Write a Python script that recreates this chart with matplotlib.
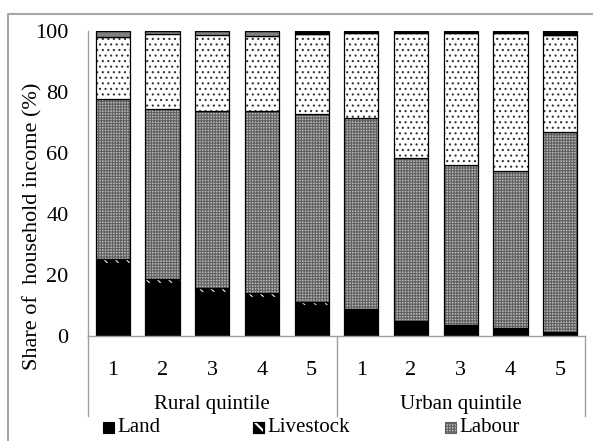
import numpy as np
import matplotlib.pyplot as plt
from matplotlib.patches import Rectangle, Polygon
from matplotlib.lines import Line2D

plt.rcParams['font.family'] = ['Liberation Serif', 'DejaVu Serif']
plt.rcParams['font.size'] = 15
plt.rcParams['hatch.linewidth'] = 0.8

quintiles = ['1', '2', '3', '4', '5', '1', '2', '3', '4', '5']
groups = ['Rural quintile', 'Urban quintile']

# shares of household income (%), rural 1-5 then urban 1-5
land       = np.array([23.9, 17.3, 14.4, 12.9, 10.2,  8.9,  5.0,  3.6,  2.7,  1.2])
livestock  = np.array([ 1.3,  1.3,  1.5,  1.3,  0.9,  0.0,  0.0,  0.0,  0.0,  0.0])
labour     = np.array([52.5, 55.7, 57.9, 59.6, 61.8, 62.7, 53.3, 52.5, 51.4, 65.6])
transfers  = np.array([20.2, 24.6, 25.0, 24.6, 26.2, 27.7, 41.0, 43.2, 45.2, 31.9])
other      = np.array([ 2.1,  1.1,  1.2,  1.6,  0.0,  0.0,  0.0,  0.0,  0.0,  0.0])
other_dark = np.array([ 0.0,  0.0,  0.0,  0.0,  0.9,  0.7,  0.7,  0.7,  0.7,  1.3])

W, H = 593, 441
fig = plt.figure(figsize=(W / 100, H / 100), dpi=100)
ax = fig.add_axes([88 / W, 105 / H, 497 / W, 305 / H])

x = np.arange(len(quintiles))
bw = 0.69

# (values, face, hatch, hatch colour)
styles = [
    (land, 'black', None, 'black'),
    (livestock, 'black', '\\\\\\', 'white'),
    (labour, '#b8b8b8', '++++++', '#606060'),
    (transfers, 'white', '...', '#333333'),
    (other, '#808080', None, '#808080'),
    (other_dark, 'black', None, 'black'),
]

bottom = np.zeros(len(x))
for vals, face, hatch, hc in styles:
    ax.bar(x, vals, bw, bottom=bottom, color=face, hatch=hatch,
           edgecolor=hc, linewidth=0)
    ax.bar(x, vals, bw, bottom=bottom, fill=False, edgecolor='black',
           linewidth=0.9)
    bottom += vals

ax.set_xlim(-0.5, 9.5)
ax.set_ylim(0, 100)
ax.set_yticks(range(0, 101, 20))
ax.tick_params(axis='y', length=0, pad=14, labelsize=16)
ax.set_xticks(x)
ax.set_xticklabels(quintiles)
ax.tick_params(axis='x', length=0, pad=18, labelsize=16)
for s in ['top', 'right']:
    ax.spines[s].set_visible(False)
for s in ['left', 'bottom']:
    ax.spines[s].set_color('#a0a0a0')
    ax.spines[s].set_linewidth(1.0)

# group separators below the axis
for px in [88, 337, 585]:
    fig.add_artist(Line2D([px / W, px / W], [1 - 336 / H, 1 - 416 / H],
                          color='#a0a0a0', lw=1.0))
fig.text(212 / W, 1 - 405 / H, groups[0], ha='center', va='center')
fig.text(461 / W, 1 - 405 / H, groups[1], ha='center', va='center')

fig.text(33 / W, 1 - 226 / H, 'Share of  household income (%)',
         rotation=90, ha='center', va='center', fontsize=16)

# legend (cut at the bottom in the original)
leg = [(103, 'Land', 'black', None),
       (253, 'Livestock', 'black', None),
       (445, 'Labour', '#b8b8b8', '++++++')]
for px, lab, face, hatch in leg:
    fig.add_artist(Rectangle((px / W, 1 - 433 / H), 11 / W, 11 / H,
                             facecolor=face, hatch=hatch, edgecolor='#606060' if hatch else 'black',
                             linewidth=0.8, transform=fig.transFigure))
    fig.text((px + 14) / W, 1 - 428 / H, lab, ha='left', va='center')
# white diagonal band of the livestock key
x0, y0 = 253, 433
band = [(x0 + 2, y0 - 11), (x0 + 5, y0 - 11), (x0 + 11, y0 - 5), (x0 + 11, y0 - 2)]
fig.add_artist(Polygon([(px / W, 1 - py / H) for px, py in
                        [(x0 + 1, y0 - 10), (x0 + 4, y0 - 10), (x0 + 10, y0 - 4), (x0 + 10, y0 - 1)]],
                       closed=True, facecolor='white', edgecolor='none',
                       transform=fig.transFigure))
fig.add_artist(Rectangle((x0 / W, 1 - y0 / H), 11 / W, 11 / H, fill=False,
                         edgecolor='black', linewidth=0.8,
                         transform=fig.transFigure))

# outer chart frame
fig.add_artist(Line2D([8 / W, 8 / W, 1.0], [0.0, 1 - 14 / H, 1 - 14 / H],
                      color='#a6a6a6', lw=1.5))

fig.savefig('out.png', dpi=100)
